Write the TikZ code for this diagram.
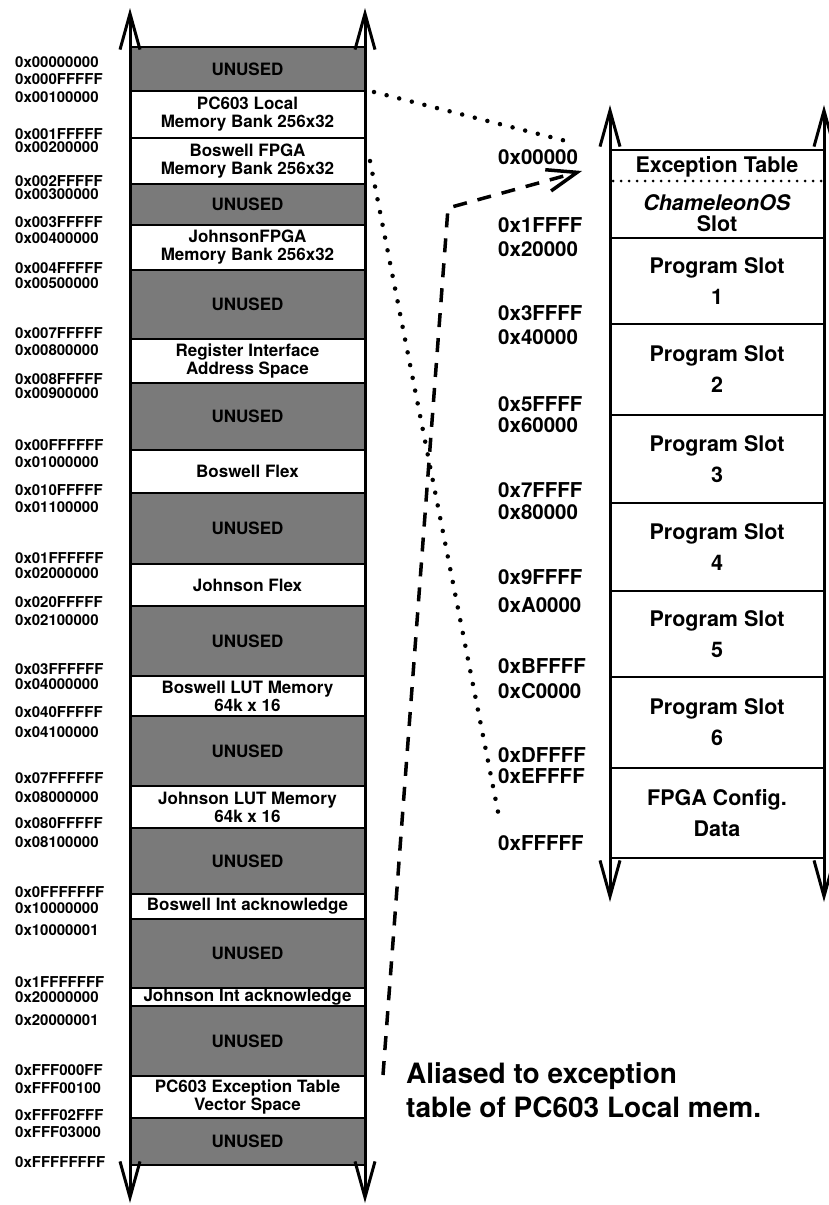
\documentclass[tikz,border=0pt]{standalone}
\usepackage{fontspec}
\setmainfont{TeX Gyre Heros}
\usetikzlibrary{arrows.meta}

\tikzset{
  memrow/.style={draw, line width=2pt, minimum width=235pt, inner sep=0pt, align=center,
    font=\bfseries\fontsize{17}{18}\selectfont},
  unused/.style={memrow, fill=black!52},
  used/.style={memrow, fill=white},
  slotrow/.style={draw, line width=2pt, fill=white, minimum width=214pt, inner sep=0pt,
    align=center, font=\bfseries\fontsize{21.5}{31}\selectfont},
  rtext/.style={inner sep=0pt, align=center, font=\bfseries\fontsize{21.5}{21}\selectfont},
  addr/.style={anchor=west, inner sep=0pt, font=\bfseries\fontsize{15}{16}\selectfont},
  raddr/.style={anchor=west, inner sep=0pt, font=\bfseries\fontsize{20.5}{22}\selectfont},
  note/.style={anchor=west, inner sep=0pt, align=left, font=\bfseries\fontsize{28}{34}\selectfont},
  side/.style={line width=3pt, {Straight Barb[length=36pt,width=20pt]}-{Straight Barb[length=36pt,width=20pt]}},
  dots/.style={line width=4.5pt, line cap=round, dash pattern=on 0pt off 13pt},
  finedots/.style={line width=3pt, line cap=round, dash pattern=on 0pt off 8pt},
  alias/.style={line width=3.5pt, dash pattern=on 14pt off 11pt, -{Straight Barb[length=30pt,width=22pt]}}
}

\begin{document}
\begin{tikzpicture}[x=1pt, y=-1pt]
  \useasboundingbox (0,0) rectangle (829,1205);

  % 32-bit address map
  \node[unused, minimum height=44pt] (u1) at (247.5,69) {UNUSED};
  \node[used, minimum height=47pt] (pclocal) at (247.5,114.5) {PC603 Local\\Memory Bank 256x32};
  \node[used, minimum height=46pt] (bosfpga) at (247.5,161) {Boswell FPGA\\Memory Bank 256x32};
  \node[unused, minimum height=41pt] (u2) at (247.5,204.5) {UNUSED};
  \node[used, minimum height=45pt] (johfpga) at (247.5,247.5) {JohnsonFPGA\\Memory Bank 256x32};
  \node[unused, minimum height=69pt] (u3) at (247.5,304.5) {UNUSED};
  \node[used, minimum height=44pt] (regif) at (247.5,361) {Register Interface\\Address Space};
  \node[unused, minimum height=67pt] (u4) at (247.5,416.5) {UNUSED};
  \node[used, minimum height=43pt] (bosflex) at (247.5,471.5) {Boswell Flex};
  \node[unused, minimum height=71pt] (u5) at (247.5,528.5) {UNUSED};
  \node[used, minimum height=42pt] (johflex) at (247.5,585) {Johnson Flex};
  \node[unused, minimum height=70pt] (u6) at (247.5,641) {UNUSED};
  \node[used, minimum height=40pt] (boslut) at (247.5,696) {Boswell LUT Memory\\64k x 16};
  \node[unused, minimum height=70pt] (u7) at (247.5,751) {UNUSED};
  \node[used, minimum height=42pt] (johlut) at (247.5,807) {Johnson LUT Memory\\64k x 16};
  \node[unused, minimum height=66pt] (u8) at (247.5,861) {UNUSED};
  \node[used, minimum height=25pt] (bosint) at (247.5,906.5) {Boswell Int acknowledge};
  \node[unused, minimum height=69pt] (u9) at (247.5,953.5) {UNUSED};
  \node[used, minimum height=18pt] (johint) at (247.5,997) {Johnson Int acknowledge};
  \node[unused, minimum height=70pt] (u10) at (247.5,1041) {UNUSED};
  \node[used, minimum height=42pt] (pcexc) at (247.5,1097) {PC603 Exception Table\\Vector Space};
  \node[unused, minimum height=47pt] (u11) at (247.5,1141.5) {UNUSED};

  \draw[side] (130,1203) -- (130,8);
  \draw[side] (365,1203) -- (365,8);

  \foreach \y/\a in {62/0x00000000, 79/0x000FFFFF, 97/0x00100000, 134/0x001FFFFF,
      147/0x00200000, 181/0x002FFFFF, 194/0x00300000, 222/0x003FFFFF, 238/0x00400000,
      268/0x004FFFFF, 283/0x00500000, 333/0x007FFFFF, 350/0x00800000, 379/0x008FFFFF,
      393/0x00900000, 445/0x00FFFFFF, 462/0x01000000, 490/0x010FFFFF, 507/0x01100000,
      558/0x01FFFFFF, 573/0x02000000, 602/0x020FFFFF, 620/0x02100000, 669/0x03FFFFFF,
      684/0x04000000, 712/0x040FFFFF, 732/0x04100000, 778/0x07FFFFFF, 797/0x08000000,
      823/0x080FFFFF, 842/0x08100000, 892/0x0FFFFFFF, 908/0x10000000, 930/0x10000001,
      982/0x1FFFFFFF, 997/0x20000000, 1020/0x20000001, 1070/0xFFF000FF, 1088/0xFFF00100,
      1115/0xFFF02FFF, 1132/0xFFF03000, 1162/0xFFFFFFFF}
    \node[addr] at (15,\y) {\a};

  % local memory bank, 1 MB
  \node[slotrow, minimum height=88pt] (osslot) at (717,194) {};
  \node[slotrow, minimum height=86pt] (slot1) at (717,281) {Program Slot\\1};
  \node[slotrow, minimum height=91pt] (slot2) at (717,369.5) {Program Slot\\2};
  \node[slotrow, minimum height=88pt] (slot3) at (717,459) {Program Slot\\3};
  \node[slotrow, minimum height=88pt] (slot4) at (717,547) {Program Slot\\4};
  \node[slotrow, minimum height=86pt] (slot5) at (717,634) {Program Slot\\5};
  \node[slotrow, minimum height=91pt] (slot6) at (717,722.5) {Program Slot\\6};
  \node[slotrow, minimum height=90pt] (fpgacfg) at (717,813) {FPGA Config.\\Data};
  \node[rtext] (exctab) at (717,167) {Exception Table};
  \node[rtext] (osname) at (717,213) {\textit{ChameleonOS}\\Slot};
  \draw[finedots] (613,181) -- (821,181);

  \draw[side] (610,902) -- (610,105);
  \draw[side] (824,902) -- (824,105);

  \foreach \y/\a in {157/0x00000, 225/0x1FFFF, 249/0x20000, 313/0x3FFFF, 337/0x40000,
      404/0x5FFFF, 425/0x60000, 490/0x7FFFF, 512/0x80000, 577/0x9FFFF, 605/0xA0000,
      666/0xBFFFF, 691/0xC0000, 755/0xDFFFF, 776/0xEFFFF, 843/0xFFFFF}
    \node[raddr] at (498,\y) {\a};

  % expansion and alias
  \coordinate (bankTop) at (570,142);
  \coordinate (bankEnd) at (500,822);
  \coordinate (bend) at (448,208);
  \coordinate (excTip) at (582,171);
  \draw[dots] ([shift={(8pt,-2pt)}]pclocal.north east) -- (bankTop);
  \draw[dots] ([xshift=4pt]bosfpga.east) -- (bankEnd);
  \draw[alias] ([xshift=17pt]pcexc.north east) -- (bend) -- (excTip);

  \node[note] (aliasnote) at (406,1090) {Aliased to exception\\table of PC603 Local mem.};
\end{tikzpicture}
\end{document}
